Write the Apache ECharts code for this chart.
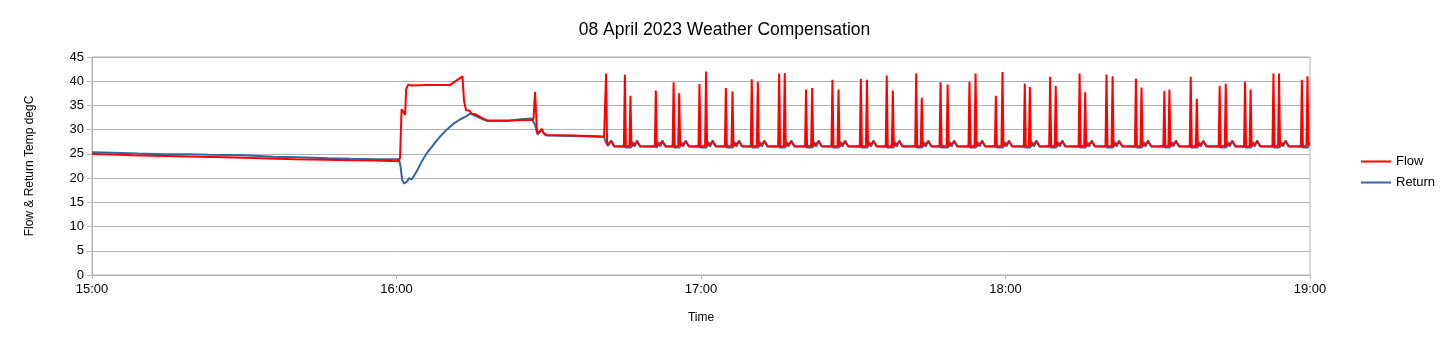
<!DOCTYPE html>
<html>
<head>
<meta charset="utf-8">
<script src="https://cdn.jsdelivr.net/npm/echarts@6/dist/echarts.min.js"></script>
<style>
html,body{margin:0;padding:0;background:#fff;}
#chart{width:1449px;height:345px;}
</style>
</head>
<body>
<div id="chart"></div>
<script>
// Time in minutes after 15:00, value in degC
const titleText = '08 April 2023 Weather Compensation';
const xTickLabels = ['15:00', '16:00', '17:00', '18:00', '19:00'];
const yTickValues = [0, 5, 10, 15, 20, 25, 30, 35, 40, 45];

const flowData = [
  [0,25.0],[4,24.85],[8,24.7],[12,24.6],[17,24.5],[21,24.4],[26,24.3],[30,24.2],[35,24.05],[40,23.9],[46,23.8],[51,23.7],[56,23.65],[60.3,23.5],
  [60.7,24.2],[61.0,34.2],[61.3,34.3],[61.7,33.1],[61.9,38.3],[62.3,39.3],[63,39.1],[66,39.2],[70.5,39.2],[73.0,41.0],[73.3,36.0],[73.7,34.0],[74.0,33.6],[74.4,33.9],[74.8,33.3],[75.5,33.2],[76.5,32.6],[77.8,31.9],[82,31.9],[86.6,32.0],[87.0,32.2],
  [87.3,37.8],[87.7,29.3],[88.2,29.6],[88.6,30.2],[89.0,29.3],[89.6,28.9],[95,28.8],[100.9,28.6],
  [101.3,41.6],[101.5,26.8],[102.3,27.6],[102.9,26.6],
  [104.8,26.5],[105.0,41.4],[105.2,26.6],[105.9,26.6],[106.1,37.0],[106.3,26.6],[107.4,27.5],[108.0,26.6],
  [110.9,26.5],[111.1,38.1],[111.3,26.6],[112.4,27.5],[113.0,26.6],
  [114.4,26.5],[114.6,39.8],[114.8,26.6],[115.5,26.6],[115.7,37.5],[115.9,26.6],[117.0,27.5],[117.6,26.6],
  [119.5,26.5],[119.7,39.4],[119.9,26.6],[120.8,26.6],[121.0,42.0],[121.2,26.6],[122.3,27.5],[122.9,26.6],
  [124.7,26.5],[124.9,38.6],[125.1,26.6],[126.0,26.6],[126.2,37.9],[126.4,26.6],[127.5,27.5],[128.1,26.6],
  [129.8,26.5],[130.0,40.4],[130.2,26.6],[131.0,26.6],[131.2,39.9],[131.4,26.6],[132.5,27.5],[133.1,26.6],
  [135.2,26.5],[135.4,41.6],[135.6,26.6],[136.3,26.6],[136.5,41.7],[136.7,26.6],[137.8,27.5],[138.4,26.6],
  [140.5,26.5],[140.7,38.3],[140.9,26.6],[141.7,26.6],[141.9,38.6],[142.1,26.6],[143.2,27.5],[143.8,26.6],
  [145.7,26.5],[145.9,40.3],[146.1,26.6],[146.9,26.6],[147.1,38.3],[147.3,26.6],[148.4,27.5],[149.0,26.6],
  [151.3,26.5],[151.5,40.5],[151.7,26.6],[152.5,26.6],[152.7,40.3],[152.9,26.6],[154.0,27.5],[154.6,26.6],
  [156.4,26.5],[156.6,41.2],[156.8,26.6],[157.6,26.6],[157.8,38.1],[158.0,26.6],[159.1,27.5],[159.7,26.6],
  [162.2,26.5],[162.4,41.6],[162.6,26.6],[163.3,26.6],[163.5,36.6],[163.7,26.6],[164.8,27.5],[165.4,26.6],
  [167.0,26.5],[167.2,39.8],[167.4,26.6],[168.4,26.6],[168.6,39.3],[168.8,26.6],[169.9,27.5],[170.5,26.6],
  [172.7,26.5],[172.9,39.9],[173.1,26.6],[173.9,26.6],[174.1,41.6],[174.3,26.6],[175.4,27.5],[176.0,26.6],
  [177.9,26.5],[178.1,37.0],[178.3,26.6],[179.2,26.6],[179.4,41.9],[179.6,26.6],[180.7,27.5],[181.3,26.6],
  [183.6,26.5],[183.8,39.5],[184.0,26.6],[184.6,26.6],[184.8,38.8],[185.0,26.6],[186.1,27.5],[186.7,26.6],
  [188.6,26.5],[188.8,40.9],[189.0,26.6],[189.7,26.6],[189.9,39.0],[190.1,26.6],[191.2,27.5],[191.8,26.6],
  [194.4,26.5],[194.6,41.6],[194.8,26.6],[195.5,26.6],[195.7,37.7],[195.9,26.6],[197.0,27.5],[197.6,26.6],
  [199.7,26.5],[199.9,41.4],[200.1,26.6],[200.9,26.6],[201.1,41.0],[201.3,26.6],[202.4,27.5],[203.0,26.6],
  [205.5,26.5],[205.7,40.5],[205.9,26.6],[206.6,26.6],[206.8,38.7],[207.0,26.6],[208.1,27.5],[208.7,26.6],
  [211.1,26.5],[211.3,38.0],[211.5,26.6],[212.1,26.6],[212.3,38.3],[212.5,26.6],[213.6,27.5],[214.2,26.6],
  [216.3,26.5],[216.5,40.9],[216.7,26.6],[217.5,26.6],[217.7,36.4],[217.9,26.6],[219.0,27.5],[219.6,26.6],
  [222.0,26.5],[222.2,39.0],[222.4,26.6],[223.2,26.6],[223.4,39.5],[223.6,26.6],[224.7,27.5],[225.3,26.6],
  [227.0,26.5],[227.2,39.9],[227.4,26.6],[228.1,26.6],[228.3,38.3],[228.5,26.6],[229.6,27.5],[230.2,26.6],
  [232.6,26.5],[232.8,41.6],[233.0,26.6],[233.7,26.6],[233.9,41.6],[234.1,26.6],[235.2,27.5],[235.8,26.6],
  [238.2,26.5],[238.4,40.3],[238.6,26.6],[239.3,26.6],[239.5,41.0],[239.7,26.8],[240,27.0]
];

const returnData = [
  [0,25.35],[5.7,25.2],[9,25.1],[14.3,24.95],[19,24.9],[23,24.8],[30,24.7],[35.7,24.4],[40.6,24.3],[46.5,24.1],[51,24.0],[56.4,23.9],[60.5,23.9],
  [60.8,22.4],[61.1,19.7],[61.5,18.9],[62.0,19.2],[62.5,20.0],[63.0,19.7],[63.3,20.0],[64,21.4],[65,23.5],[66,25.2],[67.3,26.9],[68.6,28.6],[69.9,30.0],[71.2,31.2],[72.5,32.1],[73.8,32.8],[74.5,33.3],[75.2,33.0],[76.5,32.4],[77.8,31.8],[82,31.8],[84,32.1],[86.6,32.3],
  [87.3,31.0],[87.8,29.0],[88.6,29.9],[89.2,29.0],[89.6,28.8],[95,28.7],[100.9,28.5],
  [101.2,27.5],[101.7,26.7],[102.3,27.8],[102.9,26.5],
  [104.8,26.6],[105.2,26.3],[106.2,26.3],[106.5,27.5],[106.9,26.5],[107.4,27.8],[108.0,26.5],
  [110.9,26.6],[111.3,26.3],[111.6,27.4],[112.0,26.5],[112.4,27.8],[113.0,26.5],
  [114.4,26.6],[114.8,26.3],[115.8,26.3],[116.1,27.5],[116.5,26.5],[117.0,27.8],[117.6,26.5],
  [119.5,26.6],[119.9,26.3],[121.1,26.3],[121.4,27.5],[121.8,26.5],[122.3,27.8],[122.9,26.5],
  [124.7,26.6],[125.1,26.3],[126.3,26.3],[126.6,27.5],[127.0,26.5],[127.5,27.8],[128.1,26.5],
  [129.8,26.6],[130.2,26.3],[131.3,26.3],[131.6,27.5],[132.0,26.5],[132.5,27.8],[133.1,26.5],
  [135.2,26.6],[135.6,26.3],[136.6,26.3],[136.9,27.5],[137.3,26.5],[137.8,27.8],[138.4,26.5],
  [140.5,26.6],[140.9,26.3],[142.0,26.3],[142.3,27.5],[142.7,26.5],[143.2,27.8],[143.8,26.5],
  [145.7,26.6],[146.1,26.3],[147.2,26.3],[147.5,27.5],[147.9,26.5],[148.4,27.8],[149.0,26.5],
  [151.3,26.6],[151.7,26.3],[152.8,26.3],[153.1,27.5],[153.5,26.5],[154.0,27.8],[154.6,26.5],
  [156.4,26.6],[156.8,26.3],[157.9,26.3],[158.2,27.5],[158.6,26.5],[159.1,27.8],[159.7,26.5],
  [162.2,26.6],[162.6,26.3],[163.6,26.3],[163.9,27.5],[164.3,26.5],[164.8,27.8],[165.4,26.5],
  [167.0,26.6],[167.4,26.3],[168.7,26.3],[169.0,27.5],[169.4,26.5],[169.9,27.8],[170.5,26.5],
  [172.7,26.6],[173.1,26.3],[174.2,26.3],[174.5,27.5],[174.9,26.5],[175.4,27.8],[176.0,26.5],
  [177.9,26.6],[178.3,26.3],[179.5,26.3],[179.8,27.5],[180.2,26.5],[180.7,27.8],[181.3,26.5],
  [183.6,26.6],[184.0,26.3],[184.9,26.3],[185.2,27.5],[185.6,26.5],[186.1,27.8],[186.7,26.5],
  [188.6,26.6],[189.0,26.3],[190.0,26.3],[190.3,27.5],[190.7,26.5],[191.2,27.8],[191.8,26.5],
  [194.4,26.6],[194.8,26.3],[195.8,26.3],[196.1,27.5],[196.5,26.5],[197.0,27.8],[197.6,26.5],
  [199.7,26.6],[200.1,26.3],[201.2,26.3],[201.5,27.5],[201.9,26.5],[202.4,27.8],[203.0,26.5],
  [205.5,26.6],[205.9,26.3],[206.9,26.3],[207.2,27.5],[207.6,26.5],[208.1,27.8],[208.7,26.5],
  [211.1,26.6],[211.5,26.3],[212.4,26.3],[212.7,27.5],[213.1,26.5],[213.6,27.8],[214.2,26.5],
  [216.3,26.6],[216.7,26.3],[217.8,26.3],[218.1,27.5],[218.5,26.5],[219.0,27.8],[219.6,26.5],
  [222.0,26.6],[222.4,26.3],[223.5,26.3],[223.8,27.5],[224.2,26.5],[224.7,27.8],[225.3,26.5],
  [227.0,26.6],[227.4,26.3],[228.4,26.3],[228.7,27.5],[229.1,26.5],[229.6,27.8],[230.2,26.5],
  [232.6,26.6],[233.0,26.3],[234.0,26.3],[234.3,27.5],[234.7,26.5],[235.2,27.8],[235.8,26.5],
  [238.2,26.6],[238.6,26.3],[239.6,26.3],[239.9,27.4],[240,27.3]
];

const FONT = '"Liberation Sans", Arial, sans-serif';
const chart = echarts.init(document.getElementById('chart'), null, {renderer: 'canvas'});
chart.setOption({
  animation: false,
  backgroundColor: '#ffffff',
  title: {
    text: titleText,
    left: 'center',
    top: 16,
    textStyle: {fontFamily: FONT, fontSize: 17.5, fontWeight: 'normal', color: '#000'}
  },
  legend: {
    orient: 'vertical',
    left: 1361,
    top: 155,
    padding: 0,
    icon: 'rect',
    itemWidth: 30,
    itemHeight: 2,
    itemGap: 8,
    textStyle: {fontFamily: FONT, fontSize: 13, color: '#000'},
    data: ['Flow', 'Return']
  },
  grid: {
    left: 92, right: 139, top: 57, bottom: 70,
    show: true, borderColor: '#b3b3b3', borderWidth: 1
  },
  xAxis: {
    type: 'value',
    min: 0, max: 240, interval: 60,
    name: 'Time',
    nameLocation: 'middle',
    nameGap: 37,
    nameTextStyle: {fontFamily: FONT, fontSize: 12, color: '#000'},
    axisLine: {show: true, lineStyle: {color: '#b3b3b3'}},
    axisTick: {show: true, length: 4, lineStyle: {color: '#b3b3b3'}},
    splitLine: {show: false},
    axisLabel: {
      fontFamily: FONT, fontSize: 13, color: '#000', margin: 8,
      formatter: function (v) { return xTickLabels[Math.round(v / 60)]; }
    }
  },
  yAxis: {
    type: 'value',
    min: yTickValues[0], max: yTickValues[yTickValues.length - 1], interval: 5,
    name: 'Flow & Return Temp degC',
    nameLocation: 'middle',
    nameGap: 56,
    nameTextStyle: {fontFamily: FONT, fontSize: 12, color: '#000'},
    axisLine: {show: true, lineStyle: {color: '#b3b3b3'}},
    axisTick: {show: true, length: 5, lineStyle: {color: '#b3b3b3'}},
    splitLine: {show: true, lineStyle: {color: '#b3b3b3', width: 1}},
    axisLabel: {fontFamily: FONT, fontSize: 13, color: '#000', margin: 8}
  },
  series: [
    {
      name: 'Flow', type: 'line', data: flowData,
      showSymbol: false, symbol: 'none', z: 3,
      lineStyle: {color: '#ff0000', width: 2},
      itemStyle: {color: '#ff0000'}
    },
    {
      name: 'Return', type: 'line', data: returnData,
      showSymbol: false, symbol: 'none', z: 2,
      lineStyle: {color: '#3465a4', width: 2},
      itemStyle: {color: '#3465a4'}
    }
  ]
});
</script>
</body>
</html>
